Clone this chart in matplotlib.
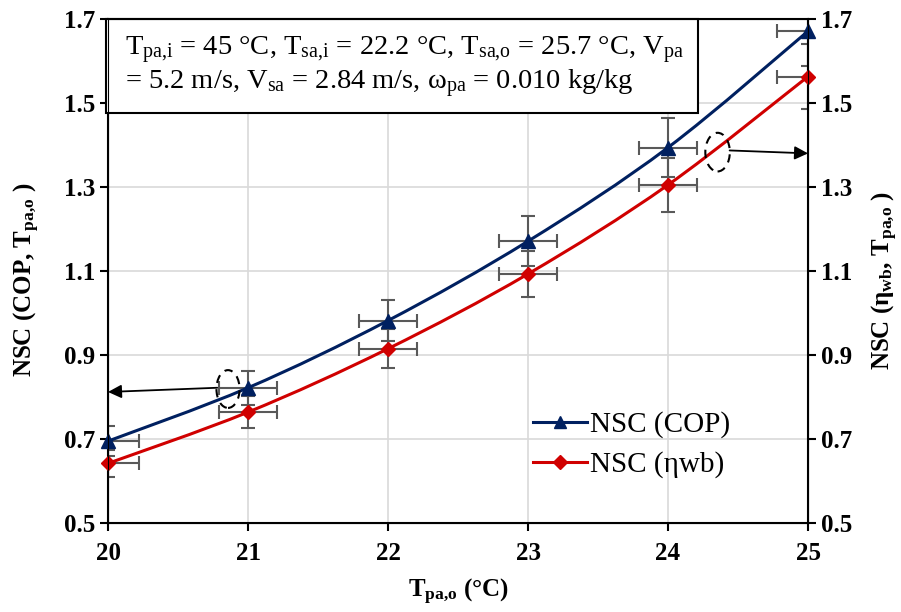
import matplotlib

matplotlib.use("Agg")
import matplotlib.pyplot as plt
from matplotlib.patches import Ellipse, Rectangle
from matplotlib.path import Path
from matplotlib.patches import PathPatch
from matplotlib.lines import Line2D

# data
t_pao = [20, 21, 22, 23, 24, 25]
nsc_cop = [0.695, 0.822, 0.982, 1.171, 1.394, 1.671]
nsc_wb = [0.642, 0.764, 0.915, 1.093, 1.305, 1.563]
cop_yerr = [0.035, 0.041, 0.049, 0.059, 0.070, 0.084]
wb_yerr = [0.032, 0.038, 0.046, 0.055, 0.065, 0.078]
x_err = [0.22, 0.21, 0.21, 0.21, 0.21, 0.22]
y_ticks = [0.5, 0.7, 0.9, 1.1, 1.3, 1.5, 1.7]

navy = "#002060"
red = "#D00000"
grey = "#595959"

plt.rcParams["font.family"] = ["Liberation Serif", "DejaVu Serif"]
plt.rcParams["mathtext.default"] = "regular"


def smooth_path(xs, ys):
    # catmull-rom curve through the points, like excel smoothed lines
    verts = [(xs[0], ys[0])]
    codes = [Path.MOVETO]
    n = len(xs)
    for i in range(n - 1):
        x0, y0 = (xs[i - 1], ys[i - 1]) if i > 0 else (xs[i], ys[i])
        x1, y1 = xs[i], ys[i]
        x2, y2 = xs[i + 1], ys[i + 1]
        x3, y3 = (xs[i + 2], ys[i + 2]) if i + 2 < n else (x2, y2)
        c1 = (x1 + (x2 - x0) / 6, y1 + (y2 - y0) / 6)
        c2 = (x2 - (x3 - x1) / 6, y2 - (y3 - y1) / 6)
        verts += [c1, c2, (x2, y2)]
        codes += [Path.CURVE4] * 3
    return Path(verts, codes)


fig = plt.figure(figsize=(9.01, 6.12), dpi=100)
ax = fig.add_axes([0.1199, 0.1454, 0.7769, 0.8236])

ax.set_xlim(20, 25)
ax.set_ylim(0.5, 1.7)
ax.set_xticks(t_pao)
ax.set_yticks(y_ticks)
ax.grid(True, color="#d9d9d9", linewidth=1.2)
ax.set_axisbelow(True)

ax.errorbar(t_pao, nsc_cop, yerr=cop_yerr, xerr=x_err, fmt="none",
            ecolor=grey, elinewidth=1.5, capsize=5, capthick=1.5, zorder=2)
ax.errorbar(t_pao, nsc_wb, yerr=wb_yerr, xerr=x_err, fmt="none",
            ecolor=grey, elinewidth=1.5, capsize=5, capthick=1.5, zorder=2)

ax.add_patch(PathPatch(smooth_path(t_pao, nsc_cop), fill=False, edgecolor=navy,
                       linewidth=2.2, zorder=3))
ax.add_patch(PathPatch(smooth_path(t_pao, nsc_wb), fill=False, edgecolor=red,
                       linewidth=2.2, zorder=3))
ax.plot(t_pao, nsc_cop, linestyle="none", marker="^", markersize=10, color=navy,
        zorder=4, clip_on=False)
ax.plot(t_pao, nsc_wb, linestyle="none", marker="D", markersize=7.5, color=red,
        zorder=4, clip_on=False)

for side in ["left", "right", "top", "bottom"]:
    ax.spines[side].set_linewidth(1.5)
ax.tick_params(axis="both", direction="out", length=6, width=1.5, labelsize=18)
for lab in ax.get_xticklabels() + ax.get_yticklabels():
    lab.set_fontweight("bold")
ax.tick_params(axis="x", pad=8)

ax.set_xlabel("T$_{pa{,}o}$ (°C)", fontsize=18, fontweight="bold", labelpad=8)
ax.set_ylabel("NSC (COP, T$_{pa{,}o}$ )", fontsize=18, fontweight="bold")
ax.yaxis.set_label_coords(-0.094, 0.482)

ax2 = ax.twinx()
ax2.set_ylim(0.5, 1.7)
ax2.set_yticks(y_ticks)
ax2.tick_params(axis="y", direction="out", length=6, width=1.5, labelsize=18)
for lab in ax2.get_yticklabels():
    lab.set_fontweight("bold")
ax2.set_ylabel("NSC (η$_{wb}$, T$_{pa{,}o}$ )", fontsize=18, fontweight="bold")
ax2.yaxis.set_label_coords(1.088, 0.482)

# condition box
ax.add_patch(Rectangle((-0.003, 0.8135), 0.846, 0.1865, transform=ax.transAxes,
                       facecolor="white", edgecolor="black", linewidth=1.5,
                       zorder=5, clip_on=False))
ax.text(0.024, 0.905,
        "T$_{pa{,}i}$ = 45 °C, T$_{sa{,}i}$ = 22.2 °C, T$_{sa{,}o}$ = 25.7 °C, V$_{pa}$\n"
        "= 5.2 m/s, V$_{sa}$ = 2.84 m/s, ω$_{pa}$ = 0.010 kg/kg",
        transform=ax.transAxes, fontsize=20.5, va="center", ha="left",
        linespacing=1.05, zorder=6)

# dashed ellipses with arrows pointing to the axis they belong to
ax.add_patch(Ellipse((20.857, 0.819), 0.165, 0.09, fill=False, edgecolor="black",
                     linestyle=(0, (4, 3)), linewidth=1.5, zorder=5))
ax.annotate("", xy=(20.0, 0.812), xytext=(20.78, 0.822),
            arrowprops=dict(arrowstyle="-|>", color="black", lw=1.3,
                            mutation_scale=20, shrinkA=0, shrinkB=0), zorder=5)
ax.add_patch(Ellipse((24.354, 1.383), 0.175, 0.092, fill=False, edgecolor="black",
                     linestyle=(0, (4, 3)), linewidth=1.5, zorder=5))
ax.annotate("", xy=(25.0, 1.38), xytext=(24.44, 1.387),
            arrowprops=dict(arrowstyle="-|>", color="black", lw=1.3,
                            mutation_scale=20, shrinkA=0, shrinkB=0), zorder=5)

handles = [
    Line2D([], [], color=navy, linewidth=2.2, marker="^", markersize=9),
    Line2D([], [], color=red, linewidth=2.2, marker="D", markersize=7),
]
leg = ax.legend(handles, ["NSC (COP)", "NSC (ηwb)"], loc="center left",
                bbox_to_anchor=(0.57, 0.155), frameon=False, fontsize=21,
                handlelength=1.85, handletextpad=0.1, labelspacing=0.45)
leg.set_zorder(6)

fig.savefig("out.png", dpi=100)
